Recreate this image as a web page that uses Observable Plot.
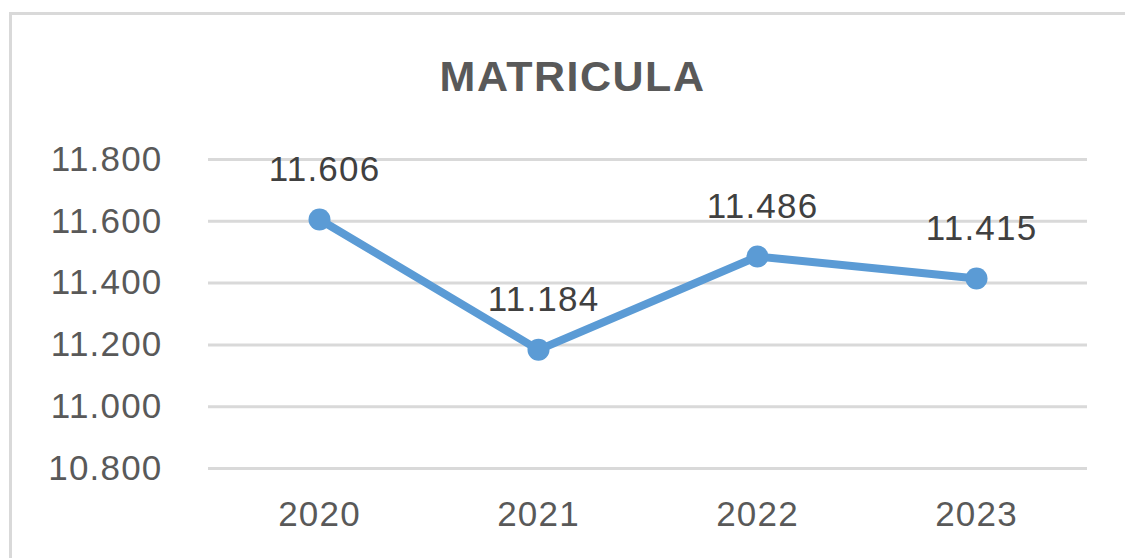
<!DOCTYPE html>
<html>
<head>
<meta charset="utf-8">
<script src="https://cdn.jsdelivr.net/npm/d3@7"></script>
<script src="https://cdn.jsdelivr.net/npm/@observablehq/plot@0.6"></script>
<style>
  html, body { margin: 0; padding: 0; background: #fff; overflow: hidden; }
  #frame { position: absolute; left: 9px; top: 12px; width: 1200px; height: 700px; border: 3px solid #d9d9d9; box-sizing: border-box; }
  #title { position: absolute; left: 0; width: 1145px; top: 51px; text-align: center; font-family: "Liberation Sans", Arial, sans-serif; font-weight: bold; font-size: 43px; letter-spacing: 1.5px; color: #595959; line-height: 50px; }
  #chart { position: absolute; left: 0; top: 0; }
  #chart svg text { letter-spacing: 1.2px; }
</style>
</head>
<body>
<div id="frame"></div>
<div id="chart"></div>
<div id="title">MATRICULA</div>
<script>
const years = ["2020", "2021", "2022", "2023"];
const values = [11606, 11184, 11486, 11415];
const yTicks = [10800, 11000, 11200, 11400, 11600, 11800];

const fmt = d3.formatLocale({decimal: ",", thousands: ".", grouping: [3], currency: ["", ""]}).format(",");
const data = years.map((y, i) => ({year: y, value: values[i]}));

const chart = Plot.plot({
  width: 1125,
  height: 558,
  marginLeft: 208,
  marginRight: 38,
  marginTop: 159,
  marginBottom: 90,
  style: {fontFamily: "'Liberation Sans', Arial, sans-serif", fontSize: "35px", color: "#595959", background: "transparent"},
  x: {type: "point", domain: years, padding: 0.5},
  y: {domain: [10800, 11800]},
  marks: [
    Plot.ruleY(yTicks, {stroke: "#d9d9d9", strokeWidth: 3}),
    Plot.axisY({ticks: yTicks, tickFormat: fmt, tickSize: 0, tickPadding: 46, fontSize: 35, label: null}),
    Plot.axisX({tickSize: 0, tickPadding: 33, fontSize: 35, label: null}),
    Plot.line(data, {x: "year", y: "value", stroke: "#5b9bd5", strokeWidth: 8}),
    Plot.dot(data, {x: "year", y: "value", r: 11, fill: "#5b9bd5", stroke: "none"}),
    Plot.text(data, {x: "year", y: "value", text: d => fmt(d.value), dy: -50, dx: 5, fontSize: 35, fill: "#404040"})
  ]
});
document.getElementById("chart").appendChild(chart);
</script>
</body>
</html>
